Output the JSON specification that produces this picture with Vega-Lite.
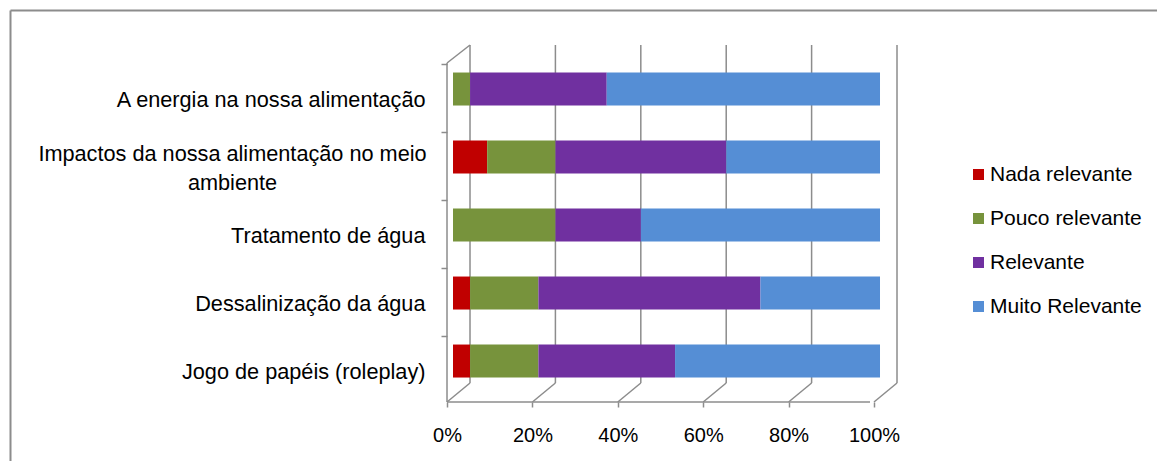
{
  "$schema": "https://vega.github.io/schema/vega-lite/v6.json",
  "width": 1147,
  "height": 451,
  "autosize": "none",
  "padding": {"left": 10, "top": 10, "right": 0, "bottom": 0},
  "background": "white",
  "config": {
    "view": {"stroke": null},
    "font": "Liberation Sans",
    "axis": {"labelFont": "Liberation Sans", "labelColor": "#000000"},
    "legend": {"labelFont": "Liberation Sans", "labelColor": "#000000"}
  },
  "datasets": {
    "respostas": [
      {"tema": "A energia na nossa alimentação", "nivel": "Nada relevante", "ordem": 1, "pct": 0},
      {"tema": "A energia na nossa alimentação", "nivel": "Pouco relevante", "ordem": 2, "pct": 4},
      {"tema": "A energia na nossa alimentação", "nivel": "Relevante", "ordem": 3, "pct": 32},
      {"tema": "A energia na nossa alimentação", "nivel": "Muito Relevante", "ordem": 4, "pct": 64},
      {"tema": "Impactos da nossa alimentação no meio ambiente", "nivel": "Nada relevante", "ordem": 1, "pct": 8},
      {"tema": "Impactos da nossa alimentação no meio ambiente", "nivel": "Pouco relevante", "ordem": 2, "pct": 16},
      {"tema": "Impactos da nossa alimentação no meio ambiente", "nivel": "Relevante", "ordem": 3, "pct": 40},
      {"tema": "Impactos da nossa alimentação no meio ambiente", "nivel": "Muito Relevante", "ordem": 4, "pct": 36},
      {"tema": "Tratamento de água", "nivel": "Nada relevante", "ordem": 1, "pct": 0},
      {"tema": "Tratamento de água", "nivel": "Pouco relevante", "ordem": 2, "pct": 24},
      {"tema": "Tratamento de água", "nivel": "Relevante", "ordem": 3, "pct": 20},
      {"tema": "Tratamento de água", "nivel": "Muito Relevante", "ordem": 4, "pct": 56},
      {"tema": "Dessalinização da água", "nivel": "Nada relevante", "ordem": 1, "pct": 4},
      {"tema": "Dessalinização da água", "nivel": "Pouco relevante", "ordem": 2, "pct": 16},
      {"tema": "Dessalinização da água", "nivel": "Relevante", "ordem": 3, "pct": 52},
      {"tema": "Dessalinização da água", "nivel": "Muito Relevante", "ordem": 4, "pct": 28},
      {"tema": "Jogo de papéis (roleplay)", "nivel": "Nada relevante", "ordem": 1, "pct": 4},
      {"tema": "Jogo de papéis (roleplay)", "nivel": "Pouco relevante", "ordem": 2, "pct": 16},
      {"tema": "Jogo de papéis (roleplay)", "nivel": "Relevante", "ordem": 3, "pct": 32},
      {"tema": "Jogo de papéis (roleplay)", "nivel": "Muito Relevante", "ordem": 4, "pct": 48}
    ],
    "grade": [{"v": 0}, {"v": 20}, {"v": 40}, {"v": 60}, {"v": 80}, {"v": 100}],
    "um": [{}]
  },
  "layer": [
    {
      "data": {"name": "grade"},
      "mark": {"type": "rule", "color": "#8c8c8c", "strokeWidth": 1.5, "xOffset": 17, "yOffset": -44, "y2Offset": 22},
      "encoding": {
        "x": {"field": "v", "type": "quantitative",
              "axis": {"orient": "top", "domain": true, "domainColor": "#8c8c8c", "domainWidth": 2, "ticks": false, "labels": false, "grid": false, "title": null}},
        "y": {"datum": "A energia na nossa alimentação", "type": "nominal",
              "axis": {"orient": "left", "domain": true, "domainColor": "#8c8c8c", "domainWidth": 2, "ticks": false, "labels": false, "grid": false, "title": null}},
        "y2": {"datum": "Jogo de papéis (roleplay)"}
      }
    },
    {
      "data": {"name": "grade"},
      "mark": {"type": "rule", "color": "#8c8c8c", "strokeWidth": 1.5, "xOffset": 17, "x2Offset": -6, "yOffset": 22, "y2Offset": 41},
      "encoding": {
        "x": {"field": "v", "type": "quantitative", "axis": null},
        "x2": {"field": "v"},
        "y": {"datum": "Jogo de papéis (roleplay)", "type": "nominal", "axis": null},
        "y2": {"datum": "Jogo de papéis (roleplay)"}
      }
    },
    {
      "data": {"name": "um"},
      "mark": {"type": "rule", "color": "#8c8c8c", "strokeWidth": 1.5, "xOffset": -6, "x2Offset": -10, "yOffset": 41},
      "encoding": {
        "x": {"datum": 0, "type": "quantitative", "axis": null},
        "x2": {"datum": 100},
        "y": {"datum": "Jogo de papéis (roleplay)", "type": "nominal", "axis": null}
      }
    },
    {
      "data": {"name": "um"},
      "mark": {"type": "rule", "color": "#8c8c8c", "strokeWidth": 1.5, "xOffset": -6, "yOffset": -26, "y2Offset": 41},
      "encoding": {
        "x": {"datum": 0, "type": "quantitative", "axis": null},
        "y": {"datum": "A energia na nossa alimentação", "type": "nominal", "axis": null},
        "y2": {"datum": "Jogo de papéis (roleplay)"}
      }
    },
    {
      "data": {"name": "um"},
      "mark": {"type": "rule", "color": "#8c8c8c", "strokeWidth": 1.5, "xOffset": -6, "x2Offset": 17, "yOffset": -26, "y2Offset": -44},
      "encoding": {
        "x": {"datum": 0, "type": "quantitative", "axis": null},
        "x2": {"datum": 0},
        "y": {"datum": "A energia na nossa alimentação", "type": "nominal", "axis": null},
        "y2": {"datum": "A energia na nossa alimentação"}
      }
    },
    {
      "data": {"name": "respostas"},
      "mark": {"type": "bar", "size": 33},
      "encoding": {
        "x": {
          "field": "pct", "type": "quantitative", "stack": "zero",
          "scale": {"domain": [-103.75, 164.87], "nice": false, "zero": false},
          "axis": {
            "orient": "bottom", "offset": -59, "values": [0, 20, 40, 60, 80, 100],
            "labelExpr": "datum.value + '%'", "domain": false, "grid": false,
            "ticks": true, "tickSize": 5, "tickColor": "#8c8c8c", "tickWidth": 1.5, "tickOffset": -6,
            "labelOffset": 0, "labelPadding": 18, "labelFontSize": 20, "title": null
          }
        },
        "y": {
          "field": "tema", "type": "nominal",
          "scale": {
            "domain": ["A energia na nossa alimentação", "Impactos da nossa alimentação no meio ambiente", "Tratamento de água", "Dessalinização da água", "Jogo de papéis (roleplay)"],
            "paddingInner": 0.368, "paddingOuter": 1, "align": 0.423
          },
          "axis": {
            "orient": "left", "offset": -437, "domain": false, "grid": false,
            "ticks": true, "tickSize": 6, "tickColor": "#8c8c8c", "tickWidth": 1.5, "tickOffset": -25,
            "labelOffset": {"condition": {"test": "datum.value == 'Impactos da nossa alimentação no meio ambiente'", "value": 21}, "value": 35},
            "labelAlign": {"condition": {"test": "datum.value == 'Impactos da nossa alimentação no meio ambiente'", "value": "center"}, "value": "right"},
            "labelPadding": {"condition": {"test": "datum.value == 'Impactos da nossa alimentação no meio ambiente'", "value": 209}, "value": 16},
            "labelFontSize": 21.7, "labelLineHeight": 29, "labelLimit": 0,
            "labelExpr": "datum.value == 'Impactos da nossa alimentação no meio ambiente' ? ['Impactos da nossa alimentação no meio', 'ambiente'] : datum.value",
            "title": null
          }
        },
        "color": {
          "field": "nivel", "type": "nominal",
          "scale": {
            "domain": ["Nada relevante", "Pouco relevante", "Relevante", "Muito Relevante"],
            "range": ["#C00000", "#77933C", "#7030A0", "#558ED5"]
          },
          "legend": {
            "orient": "none", "legendX": 958, "legendY": 154, "title": null,
            "symbolType": "square", "symbolSize": 121, "symbolStrokeWidth": 0, "symbolOpacity": 1,
            "labelFontSize": 21, "labelOffset": 1, "rowPadding": 22, "padding": 0
          }
        },
        "order": {"field": "ordem", "type": "quantitative"}
      }
    }
  ],
  "resolve": {"axis": {"x": "independent", "y": "independent"}}
}
